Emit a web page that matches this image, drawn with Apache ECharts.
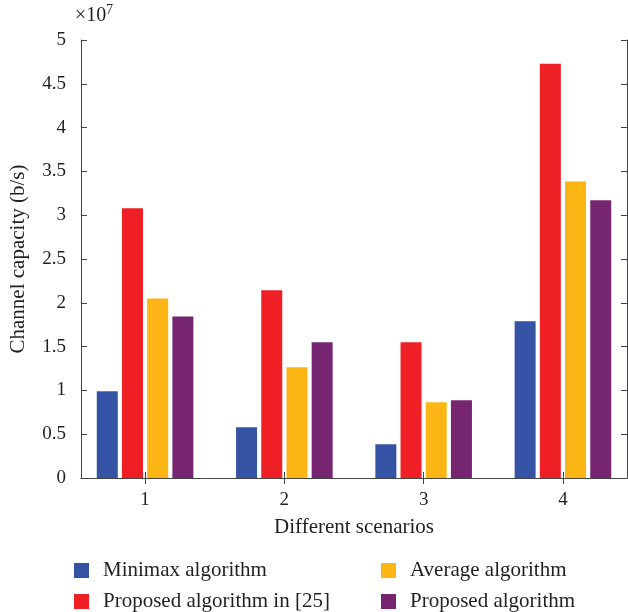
<!DOCTYPE html>
<html>
<head>
<meta charset="utf-8">
<script src="https://cdn.jsdelivr.net/npm/echarts@6/dist/echarts.min.js"></script>
<style>
html,body{margin:0;padding:0;background:#fff;}
#chart{width:628px;height:612px;}
</style>
</head>
<body>
<div id="chart"></div>
<script>
// Data (values in units of 1e7 b/s)
const scenarios = [1, 2, 3, 4];
const minimax = [0.99, 0.58, 0.385, 1.79];
const proposed25 = [3.08, 2.143, 1.55, 4.73];
const average = [2.05, 1.265, 0.865, 3.385];
const proposed = [1.845, 1.55, 0.887, 3.17];
const yTicks = [0, 0.5, 1, 1.5, 2, 2.5, 3, 3.5, 4, 4.5, 5];
const seriesNames = ['Minimax algorithm', 'Proposed algorithm in [25]', 'Average algorithm', 'Proposed algorithm'];

const FONT = 'Liberation Serif';
const AX = '#444';
const TXT = '#231f20';
const colors = ['#3453A5', '#EE1F25', '#FBB615', '#762670'];

const chart = echarts.init(document.getElementById('chart'), null, {renderer: 'canvas'});

function pairs(vals) { return scenarios.map((s, i) => [s, vals[i]]); }

const xBase = {
  type: 'value', min: 0.54, max: 4.46,
  axisLine: {show: true, lineStyle: {color: AX, width: 1}},
  splitLine: {show: false}
};
const yBase = {
  type: 'value', min: yTicks[0], max: yTicks[yTicks.length - 1], interval: 0.5,
  axisLine: {show: true, lineStyle: {color: AX, width: 1}},
  splitLine: {show: false}
};

const legendCommon = {
  orient: 'vertical', top: 555, height: 80, itemGap: 10,
  itemWidth: 15, itemHeight: 15, icon: 'rect',
  textStyle: {fontFamily: FONT, fontSize: 21, color: TXT, padding: [0, 0, 0, 9]}
};

const option = {
  animation: false,
  backgroundColor: '#fff',
  textStyle: {fontFamily: FONT},
  grid: {left: 79, top: 40, right: 1, bottom: 134, containLabel: false},
  xAxis: [
    Object.assign({}, xBase, {
      position: 'bottom',
      name: 'Different scenarios', nameLocation: 'middle', nameGap: 39,
      nameTextStyle: {fontFamily: FONT, fontSize: 21, color: TXT},
      axisTick: {show: true, inside: true, length: 6, customValues: scenarios, lineStyle: {color: AX}},
      axisLabel: {show: true, customValues: scenarios, margin: 13, fontFamily: FONT, fontSize: 19, color: TXT}
    }),
    Object.assign({}, xBase, {
      position: 'top',
      axisTick: {show: true, inside: true, length: 6, customValues: scenarios, lineStyle: {color: AX}},
      axisLabel: {show: true, customValues: scenarios, formatter: function () { return ''; }}
    })
  ],
  yAxis: [
    Object.assign({}, yBase, {
      position: 'left',
      name: 'Channel capacity (b/s)', nameLocation: 'middle', nameGap: 52,
      nameTextStyle: {fontFamily: FONT, fontSize: 21, color: TXT},
      axisTick: {show: true, inside: true, length: 6, lineStyle: {color: AX}},
      axisLabel: {show: true, margin: 15, fontFamily: FONT, fontSize: 19, color: TXT}
    }),
    Object.assign({}, yBase, {
      position: 'right',
      axisTick: {show: true, inside: true, length: 6, lineStyle: {color: AX}},
      axisLabel: {show: false}
    })
  ],
  legend: [
    Object.assign({}, legendCommon, {data: [seriesNames[0], seriesNames[1]], left: 69}),
    Object.assign({}, legendCommon, {data: [seriesNames[2], seriesNames[3]], left: 376})
  ],
  graphic: [
    {type: 'text', left: 75, top: 6, style: {text: '×10', font: '20px "Liberation Serif"', fill: TXT}},
    {type: 'text', left: 106, top: 3, style: {text: '7', font: '14px "Liberation Serif"', fill: TXT}}
  ],
  series: [
    {name: seriesNames[0], type: 'bar', data: pairs(minimax), barWidth: 21, barGap: '20%', itemStyle: {color: colors[0]}},
    {name: seriesNames[1], type: 'bar', data: pairs(proposed25), barWidth: 21, barGap: '20%', itemStyle: {color: colors[1]}},
    {name: seriesNames[2], type: 'bar', data: pairs(average), barWidth: 21, barGap: '20%', itemStyle: {color: colors[2]}},
    {name: seriesNames[3], type: 'bar', data: pairs(proposed), barWidth: 21, barGap: '20%', itemStyle: {color: colors[3]}}
  ]
};
chart.setOption(option);
</script>
</body>
</html>
